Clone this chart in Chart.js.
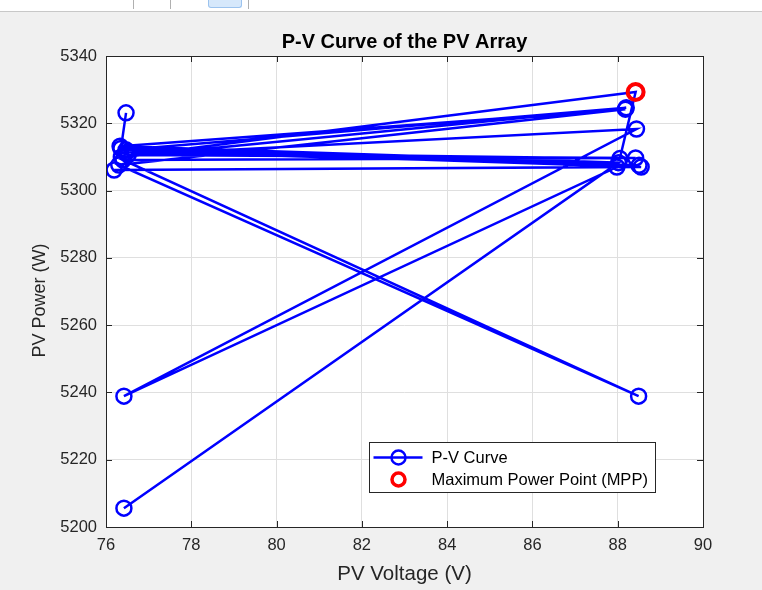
<!DOCTYPE html>
<html>
<head>
<meta charset="utf-8">
<script src="https://cdn.jsdelivr.net/npm/chart.js@4.4.1/dist/chart.umd.min.js"></script>
<style>
  html, body { margin: 0; padding: 0; background: #f0f0f0; width: 762px; height: 590px; overflow: hidden; }
  #wrap { position: absolute; left: 0; top: 0; width: 762px; height: 590px; }
  #bar { position: absolute; left: 0; top: 0; width: 762px; height: 11px; background: #ffffff; border-bottom: 1px solid #c8c8c8; z-index: 2; }
  .sep { position: absolute; top: 0; width: 1px; height: 9px; background: #b0b0b0; }
  #hl { position: absolute; left: 208px; top: 0; width: 32px; height: 7px; background: #d6e8fb; border: 1px solid #9cc3ee; border-top: none; border-radius: 0 0 3px 3px; }
</style>
</head>
<body>
<div id="bar"><div class="sep" style="left:133px"></div><div class="sep" style="left:170px"></div><div id="hl"></div><div class="sep" style="left:248px"></div></div>
<div id="wrap"><canvas id="c" width="762" height="590"></canvas></div>
<script>
// ---- data ----
const pvVoltage = [76.42, 88.02, 76.33, 88.18, 76.30, 88.49, 76.40, 88.42, 76.52, 88.44, 76.42, 87.98,
                   76.19, 88.55, 76.47, 88.20, 76.36, 88.42, 88.05, 76.50, 88.50, 76.35, 76.47];
const pvPower   = [5205.6, 5308.3, 5313.2, 5324.2, 5307.6, 5238.9, 5309.1, 5309.7, 5310.6, 5318.3, 5238.9, 5307.0,
                   5306.1, 5307.0, 5312.1, 5324.6, 5310.0, 5329.3, 5309.5, 5311.5, 5307.5, 5312.5, 5323.1];
const mppVoltage = [88.42];
const mppPower   = [5329.3];
const xTicks = [76, 78, 80, 82, 84, 86, 88, 90];
const yTicks = [5200, 5220, 5240, 5260, 5280, 5300, 5320, 5340];
const seriesNames = ['P-V Curve', 'Maximum Power Point (MPP)'];
const chartTitle = 'P-V Curve of the PV Array';
const xLabel = 'PV Voltage (V)';
const yLabel = 'PV Power (W)';

const FONT = '"Liberation Sans", Arial, Helvetica, sans-serif';
const AXIS = '#262626';

const pvPoints = pvVoltage.map((v, i) => ({ x: v, y: pvPower[i] }));
const mppPoints = mppVoltage.map((v, i) => ({ x: v, y: mppPower[i] }));

const boxPlugin = {
  id: 'matlabBox',
  beforeDraw(chart) {
    const { ctx, chartArea: ca } = chart;
    ctx.save();
    ctx.fillStyle = '#ffffff';
    ctx.fillRect(ca.left, ca.top, ca.right - ca.left, ca.bottom - ca.top);
    // title, centred over the axes
    ctx.fillStyle = '#000000';
    ctx.font = 'bold 20px ' + FONT;
    ctx.textAlign = 'center';
    ctx.textBaseline = 'middle';
    ctx.fillText(chartTitle, (ca.left + ca.right) / 2, ca.top - 14);
    // y axis label
    ctx.fillStyle = AXIS;
    ctx.font = '18px ' + FONT;
    ctx.translate(40, (ca.top + ca.bottom) / 2 + 9);
    ctx.rotate(-Math.PI / 2);
    ctx.fillText(yLabel, 0, 0);
    ctx.restore();
  },
  beforeDatasetsDraw(chart) {
    const { ctx, chartArea: ca, scales } = chart;
    ctx.save();
    ctx.strokeStyle = AXIS;
    ctx.lineWidth = 1;
    const tl = 6;
    ctx.beginPath();
    scales.x.ticks.forEach(t => {
      const px = Math.round(scales.x.getPixelForValue(t.value)) + 0.5;
      ctx.moveTo(px, ca.bottom); ctx.lineTo(px, ca.bottom - tl);
      ctx.moveTo(px, ca.top); ctx.lineTo(px, ca.top + tl);
    });
    scales.y.ticks.forEach(t => {
      const py = Math.round(scales.y.getPixelForValue(t.value)) + 0.5;
      ctx.moveTo(ca.left, py); ctx.lineTo(ca.left + tl, py);
      ctx.moveTo(ca.right, py); ctx.lineTo(ca.right - tl, py);
    });
    ctx.stroke();
    ctx.restore();
  },
  afterDatasetsDraw(chart) {
    const { ctx, chartArea: ca } = chart;
    ctx.save();
    ctx.strokeStyle = AXIS;
    ctx.lineWidth = 1;
    ctx.strokeRect(Math.round(ca.left) + 0.5, Math.round(ca.top) + 0.5,
                   Math.round(ca.right - ca.left), Math.round(ca.bottom - ca.top));
    // legend
    const x0 = Math.round(ca.right - 334) + 0.5, y0 = Math.round(ca.bottom - 85) + 0.5;
    const w = 286, h = 50;
    ctx.fillStyle = '#ffffff';
    ctx.fillRect(x0, y0, w, h);
    ctx.strokeRect(x0, y0, w, h);
    const cx = x0 + 29;
    const r1y = y0 + 15, r2y = y0 + 37;
    ctx.strokeStyle = '#0000ff';
    ctx.lineWidth = 2.5;
    ctx.beginPath(); ctx.moveTo(x0 + 4, r1y); ctx.lineTo(x0 + 53, r1y); ctx.stroke();
    ctx.beginPath(); ctx.arc(cx, r1y, 7, 0, Math.PI * 2); ctx.stroke();
    ctx.strokeStyle = '#ff0000';
    ctx.lineWidth = 3.5;
    ctx.beginPath(); ctx.arc(cx, r2y, 6.5, 0, Math.PI * 2); ctx.stroke();
    ctx.fillStyle = '#000000';
    ctx.font = '16.5px ' + FONT;
    ctx.textBaseline = 'middle';
    ctx.textAlign = 'left';
    ctx.fillText(seriesNames[0], x0 + 62, r1y + 1);
    ctx.fillText(seriesNames[1], x0 + 62, r2y + 1);
    ctx.restore();
  }
};

new Chart(document.getElementById('c'), {
  type: 'scatter',
  data: {
    datasets: [
      {
        label: seriesNames[0],
        data: pvPoints,
        order: 2,
        showLine: true,
        borderColor: '#0000ff',
        borderWidth: 2.5,
        backgroundColor: 'rgba(0,0,0,0)',
        pointBorderColor: '#0000ff',
        pointBackgroundColor: 'rgba(0,0,0,0)',
        pointRadius: 7.5,
        pointBorderWidth: 2.5,
        tension: 0
      },
      {
        label: seriesNames[1],
        data: mppPoints,
        order: 1,
        showLine: false,
        pointBorderColor: '#ff0000',
        pointBackgroundColor: 'rgba(0,0,0,0)',
        backgroundColor: 'rgba(0,0,0,0)',
        pointRadius: 8,
        pointBorderWidth: 4
      }
    ]
  },
  options: {
    responsive: false,
    animation: false,
    devicePixelRatio: 1,
    layout: { padding: { left: 0, right: 59, top: 56, bottom: 0 } },
    plugins: {
      legend: { display: false },
      tooltip: { enabled: false },
      title: { display: false }
    },
    scales: {
      x: {
        type: 'linear',
        min: 76, max: 90,
        afterBuildTicks(scale) { scale.ticks = xTicks.map(v => ({ value: v })); },
        afterFit(scale) { scale.height = 63; },
        ticks: { color: AXIS, padding: 9, font: { family: FONT, size: 16.5 }, maxRotation: 0,
                 callback: v => String(v) },
        grid: { color: '#dfdfdf', drawTicks: false },
        border: { display: false },
        title: { display: true, text: xLabel, color: AXIS, font: { family: FONT, size: 20.5 }, padding: { top: 0, bottom: 3 } }
      },
      y: {
        type: 'linear',
        min: 5200, max: 5340,
        afterBuildTicks(scale) { scale.ticks = yTicks.map(v => ({ value: v })); },
        afterFit(scale) { scale.width = 106; },
        ticks: { color: AXIS, padding: 9, font: { family: FONT, size: 16.5 },
                 callback: v => String(v) },
        grid: { color: '#dfdfdf', drawTicks: false },
        border: { display: false },
        title: { display: false }
      }
    }
  },
  plugins: [boxPlugin]
});
</script>
</body>
</html>
